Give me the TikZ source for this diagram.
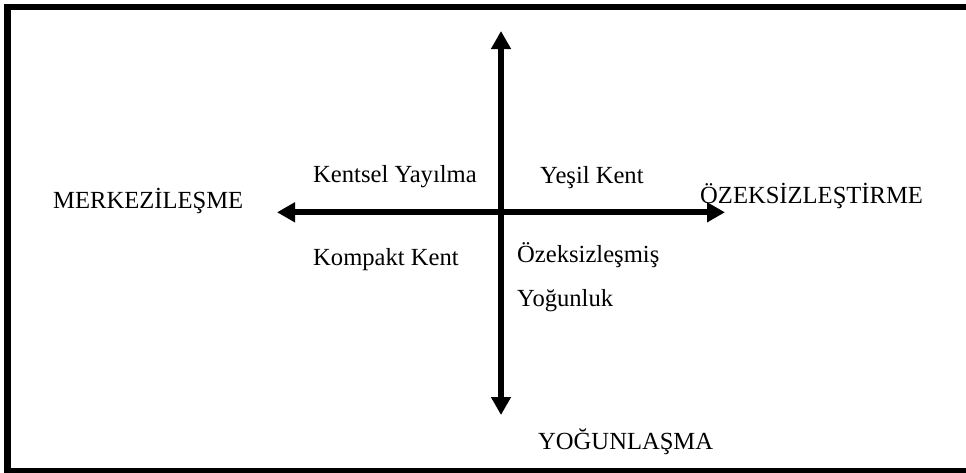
\documentclass[tikz,border=0pt]{standalone}
\usepackage{fontspec}
\setmainfont{Liberation Serif}
\usetikzlibrary{arrows.meta}
\begin{document}
\begin{tikzpicture}[x=1pt,y=-1pt,
  axis/.style={line width=6pt,{Triangle[length=18pt,width=19pt]}-{Triangle[length=18pt,width=19pt]}},
  lbl/.style={anchor=base west,inner sep=0pt,font=\fontsize{24.6pt}{29pt}\selectfont}]
\useasboundingbox (0,0) rectangle (966,472);
\fill[white] (0,0) rectangle (966,472);
\begin{scope}
\clip (0,0) rectangle (966,472);
\draw[line width=6.5pt] (1000,7) -- (7.5,7) -- (7.5,471.5) -- (1000,471.5);
\end{scope}
\coordinate (top) at (501,31);
\coordinate (bot) at (501,415);
\coordinate (lft) at (277,212.3);
\coordinate (rgt) at (725,212.3);
\draw[axis] (bot) -- (top);
\draw[axis] (lft) -- (rgt);
\node[lbl] (merk) at (53,208) {MERKEZİLEŞME};
\node[lbl] (ozek) at (700,203) {ÖZEKSİZLEŞTİRME};
\node[lbl] (yog) at (538,449) {YOĞUNLAŞMA};
\node[lbl] (ky) at (313,182) {Kentsel Yayılma};
\node[lbl] (kk) at (313,265) {Kompakt Kent};
\node[lbl] (yk) at (540,183) {Yeşil Kent};
\node[lbl] (oz) at (517,262) {Özeksizleşmiş};
\node[lbl] (yo) at (517,306) {Yoğunluk};
\end{tikzpicture}
\end{document}
